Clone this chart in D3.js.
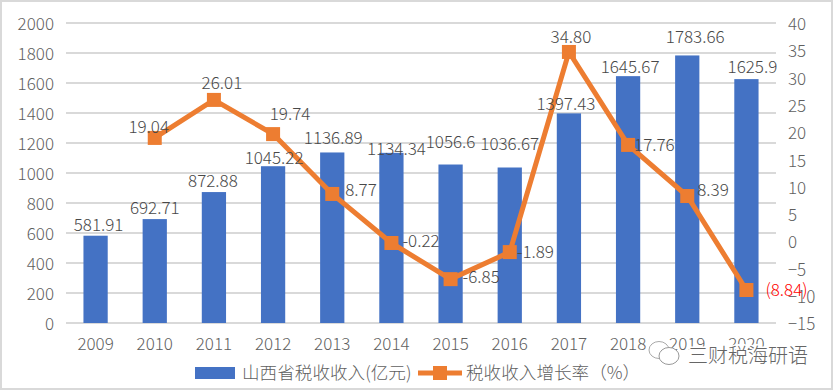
<!DOCTYPE html>
<html><head><meta charset="utf-8">
<script src="https://cdn.jsdelivr.net/npm/d3@7"></script>
<style>
html,body{margin:0;padding:0;background:#fff}
svg{display:block}
text{font-family:"Noto Sans CJK SC","Noto Sans",sans-serif;font-weight:300}
</style></head><body>
<svg id="c" width="833" height="390"></svg>
<script>
const years = ["2009","2010","2011","2012","2013","2014","2015","2016","2017","2018","2019","2020"];
const taxRevenue = [581.91,692.71,872.88,1045.22,1136.89,1134.34,1056.6,1036.67,1397.43,1645.67,1783.66,1625.9];
const taxLabels = ["581.91","692.71","872.88","1045.22","1136.89","1134.34","1056.6","1036.67","1397.43","1645.67","1783.66","1625.9"];
const growthYears = years.slice(1);
const growthRate = [19.04,26.01,19.74,8.77,-0.22,-6.85,-1.89,34.80,17.76,8.39,-8.84];
const growthLabels = ["19.04","26.01","19.74","8.77","-0.22","-6.85","-1.89","34.80","17.76","8.39","(8.84)"];
const leftTicks = [0,200,400,600,800,1000,1200,1400,1600,1800,2000];
const rightTicks = [-15,-10,-5,0,5,10,15,20,25,30,35,40];
const seriesNames = ["山西省税收收入(亿元)","税收收入增长率（%）"];
const watermark = "三财税海研语";

// hand placement of the data labels, as offsets from each mark
const taxNudgeX = [3,0,-1,1,1,5,0,0,-3,2,8,6];
const taxNudgeY = [-5,-5,-5,-2,-8,2,-17,-17,-3,-3,-12,-6];
const growthNudgeX = [-6,8,17,13,11,12,7,2,6,10,19];
const growthNudgeY = [-5,-11,-14,2,4,4,6,-9,6,0,6];
const growthAnchor = ["middle","middle","middle","start","start","start","start","middle","start","start","start"];

const BLUE="#4472C4", ORANGE="#ED7D31", GRID="#D9D9D9", TXT="#5f5f5f", LBL="#484848";
const FS=17;
const svg=d3.select("#c");
svg.append("rect").attr("x",1).attr("y",1).attr("width",831).attr("height",388)
  .attr("fill","#fff").attr("stroke","#D9D9D9").attr("stroke-width",2);

const x=d3.scaleBand().domain(years).range([66,776]).paddingInner(0.59).paddingOuter(0.295);
const yL=d3.scaleLinear().domain([0,2000]).range([323,23]);
const yR=d3.scaleLinear().domain([-15,40]).range([323.6,23.6]);
const cx=d=>x(d)+x.bandwidth()/2;

svg.append("g").selectAll("line").data(leftTicks).join("line")
  .attr("x1",66).attr("x2",776).attr("y1",d=>yL(d)).attr("y2",d=>yL(d))
  .attr("stroke",GRID).attr("stroke-width",2);

svg.append("g").selectAll("rect").data(years).join("rect")
  .attr("x",d=>x(d)).attr("width",x.bandwidth())
  .attr("y",(d,i)=>yL(taxRevenue[i])).attr("height",(d,i)=>yL(0)-yL(taxRevenue[i]))
  .attr("fill",BLUE);

const axL=svg.append("g").attr("transform","translate(54,0)")
  .call(d3.axisLeft(yL).tickValues(leftTicks).tickSize(0).tickPadding(0).tickFormat(d3.format("d")));
const axR=svg.append("g").attr("transform","translate(788,0)")
  .call(d3.axisRight(yR).tickValues(rightTicks).tickSize(0).tickPadding(0).tickFormat(d3.format("d")));
const axB=svg.append("g").attr("transform","translate(0,333)")
  .call(d3.axisBottom(x).tickSize(0).tickPadding(0));
[axL,axR,axB].forEach(a=>{a.select(".domain").remove();
  a.selectAll("text").attr("fill",TXT).style("font-size",FS+"px");});
axL.selectAll("text").attr("dy","0.36em");
axR.selectAll("text").attr("dy","0.36em");
axB.selectAll("text").attr("dy","0.98em");

const line=d3.line().x((d,i)=>cx(growthYears[i])).y(d=>yR(d));
svg.append("path").datum(growthRate).attr("d",line).attr("fill","none")
  .attr("stroke",ORANGE).attr("stroke-width",5).attr("stroke-linejoin","miter");
svg.append("g").selectAll("rect").data(growthRate).join("rect")
  .attr("x",(d,i)=>cx(growthYears[i])-7).attr("y",d=>yR(d)-7)
  .attr("width",14).attr("height",14).attr("fill",ORANGE);

svg.append("g").selectAll("text").data(taxLabels).join("text")
  .attr("x",(d,i)=>cx(years[i])+taxNudgeX[i]).attr("y",(d,i)=>yL(taxRevenue[i])+taxNudgeY[i])
  .attr("text-anchor","middle").attr("fill",LBL).style("font-size",FS+"px").text(d=>d);

svg.append("g").selectAll("text").data(growthLabels).join("text")
  .attr("x",(d,i)=>cx(growthYears[i])+growthNudgeX[i])
  .attr("y",(d,i)=>yR(growthRate[i])+growthNudgeY[i])
  .attr("text-anchor",(d,i)=>growthAnchor[i])
  .attr("fill",(d,i)=>growthLabels[i].startsWith("(")?"#FF0000":LBL)
  .style("font-size",FS+"px").text(d=>d);

const lg=svg.append("g");
lg.append("rect").attr("x",195).attr("y",367).attr("width",40).attr("height",12).attr("fill",BLUE);
lg.append("text").attr("x",242).attr("y",379).attr("fill",TXT).style("font-size","17.6px").text(seriesNames[0]);
lg.append("line").attr("x1",418).attr("x2",462).attr("y1",373).attr("y2",373).attr("stroke",ORANGE).attr("stroke-width",5);
lg.append("rect").attr("x",433).attr("y",366).attr("width",14).attr("height",14).attr("fill",ORANGE);
lg.append("text").attr("x",466).attr("y",379).attr("fill",TXT).style("font-size","17.6px").text(seriesNames[1]);

const wm=svg.append("g");
wm.append("text").attr("x",688).attr("y",363).attr("fill","#666")
  .attr("stroke","#fff").attr("stroke-width",3).attr("paint-order","stroke")
  .style("font-size","20px").text(watermark);
wm.append("ellipse").attr("cx",659).attr("cy",350).attr("rx",10).attr("ry",8.5).attr("fill","#fff").attr("stroke","#aaa").attr("stroke-width",1);
wm.append("ellipse").attr("cx",669).attr("cy",356).attr("rx",10).attr("ry",8.5).attr("fill","#fff").attr("stroke","#999").attr("stroke-width",1);
</script>
</body></html>
